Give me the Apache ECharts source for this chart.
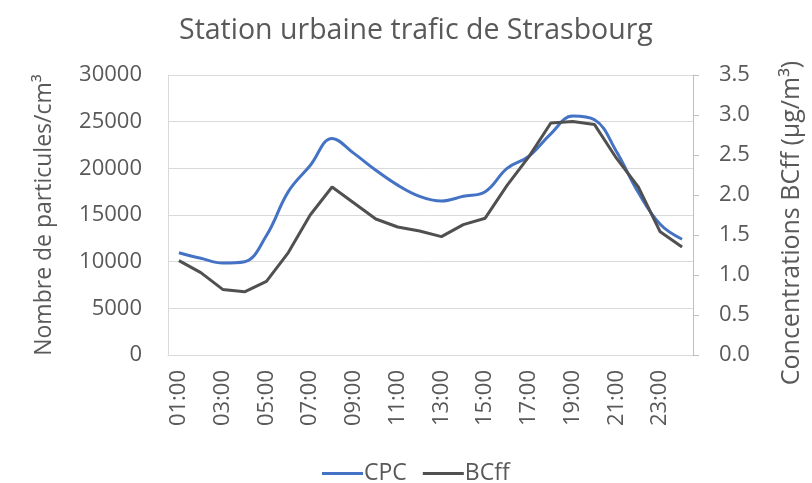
<!DOCTYPE html>
<html>
<head>
<meta charset="utf-8">
<script src="https://cdn.jsdelivr.net/npm/echarts@6/dist/echarts.min.js"></script>
<style>
html,body{margin:0;padding:0;background:#fff;}
#chart{width:812px;height:483px;}
</style>
</head>
<body>
<div id="chart"></div>
<script>
const hours = ['01:00','02:00','03:00','04:00','05:00','06:00','07:00','08:00','09:00','10:00','11:00','12:00',
               '13:00','14:00','15:00','16:00','17:00','18:00','19:00','20:00','21:00','22:00','23:00','24:00'];
const cpc = [10960, 10360, 9850, 10000, 12800, 17500, 20300, 23200, 21600, 19800, 18200, 17000,
             16500, 17000, 17500, 20000, 21300, 23700, 25600, 25200, 21800, 17400, 14000, 12400];
const bcff = [1.18, 1.03, 0.82, 0.79, 0.92, 1.28, 1.75, 2.10, 1.90, 1.70, 1.60, 1.55,
              1.48, 1.63, 1.71, 2.12, 2.48, 2.90, 2.92, 2.88, 2.46, 2.10, 1.54, 1.35];
const leftTicks = {min: 0, max: 30000, interval: 5000};
const rightTicks = {min: 0, max: 3.5, interval: 0.5};

const FONT = 'Open Sans';
const TXT = '#595959';
const chart = echarts.init(document.getElementById('chart'), null, {renderer: 'canvas'});
chart.setOption({
  backgroundColor: '#ffffff',
  animation: false,
  textStyle: {fontFamily: FONT, color: TXT},
  title: {
    text: 'Station urbaine trafic de Strasbourg',
    left: 174, top: 11,
    textStyle: {fontFamily: FONT, fontSize: 28.5, fontWeight: 'normal', color: TXT}
  },
  legend: {
    top: 457, left: 317,
    icon: 'rect', itemWidth: 41, itemHeight: 3, itemGap: 16,
    textStyle: {fontFamily: FONT, fontSize: 23, color: TXT, padding: [0,0,0,-4]},
    data: ['CPC', 'BCff']
  },
  grid: {left: 168, right: 116, top: 75, bottom: 128, containLabel: false},
  xAxis: {
    type: 'category', data: hours, boundaryGap: true,
    axisLine: {show: true, lineStyle: {color: '#d9d9d9', width: 1}},
    axisTick: {show: false},
    axisLabel: {interval: 1, rotate: 90, fontFamily: FONT, fontSize: 22, color: TXT, margin: 15}
  },
  yAxis: [{
    type: 'value', min: leftTicks.min, max: leftTicks.max, interval: leftTicks.interval,
    name: 'Nombre de particules/cm³', nameLocation: 'middle', nameRotate: 90, nameGap: 112,
    nameTextStyle: {fontFamily: FONT, fontSize: 23, color: TXT},
    axisLine: {show: true, lineStyle: {color: '#d9d9d9'}},
    axisTick: {show: false},
    splitLine: {show: true, lineStyle: {color: '#d9d9d9', width: 1}},
    axisLabel: {fontFamily: FONT, fontSize: 22, color: TXT, margin: 26, formatter: v => String(v)}
  }, {
    type: 'value', position: 'right', min: rightTicks.min, max: rightTicks.max, interval: rightTicks.interval,
    name: 'Concentrations BCff (µg/m³)', nameLocation: 'middle', nameRotate: 90, nameGap: 86,
    nameTextStyle: {fontFamily: FONT, fontSize: 25, color: TXT, padding: [0, 16, 0, 0]},
    axisLine: {show: true, lineStyle: {color: '#bfbfbf'}},
    axisTick: {show: true, inside: false, length: 6, lineStyle: {color: '#bfbfbf'}},
    splitLine: {show: false},
    axisLabel: {fontFamily: FONT, fontSize: 22, color: TXT, margin: 26,
      formatter: v => v.toFixed(1)}
  }],
  series: [{
    name: 'CPC', type: 'line', yAxisIndex: 0, data: cpc, smooth: 0.4,
    symbol: 'none', lineStyle: {color: '#4472C4', width: 3}, itemStyle: {color: '#4472C4'}
  }, {
    name: 'BCff', type: 'line', yAxisIndex: 1, data: bcff, smooth: false,
    symbol: 'none', lineStyle: {color: '#505050', width: 3}, itemStyle: {color: '#505050'}
  }]
});
</script>
</body>
</html>
